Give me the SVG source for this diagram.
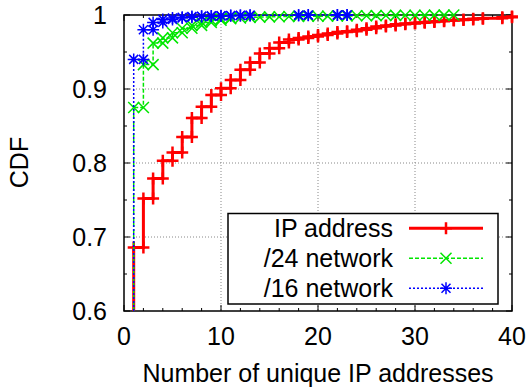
<svg xmlns="http://www.w3.org/2000/svg" xmlns:xlink="http://www.w3.org/1999/xlink" width="530" height="390" viewBox="0 0 530 390">
  <style>
    text { font-family: "Liberation Sans", Arial, sans-serif; font-size: 25px; fill: #000; }
    .yl { text-anchor: end; }
    .xl { text-anchor: middle; }
    .grid { stroke: #888; stroke-width: 1; stroke-dasharray: 1 2; fill: none; }
    .tick { stroke: #000; stroke-width: 1; fill: none; }
    .frame { stroke: #000; stroke-width: 1.5; fill: none; }
    .red { stroke: #ff0000; fill: none; }
    .green { stroke: #00e600; fill: none; }
    .blue { stroke: #0000ff; fill: none; }
  </style>
  <defs>
    <path id="mp" d="M-6,0H6M0,-6V6"/>
    <path id="mx" d="M-5.5,-5.5L5.5,5.5M-5.5,5.5L5.5,-5.5"/>
    <path id="ms" d="M-6,0H6M0,-6V6M-4.5,-4.5L4.5,4.5M-4.5,4.5L4.5,-4.5"/>
  </defs>

  <rect width="530" height="390" fill="#fff"/>

  <!-- grid -->
  <g id="grid" class="grid">
    <path d="M221,15V311M318,15V311M415,15V311"/>
    <path d="M124,89H512M124,163H512M124,237H512"/>
  </g>

  <!-- axes frame and ticks -->
  <g id="axes">
    <rect class="frame" x="124" y="15" width="388" height="296"/>
    <path class="tick" d="M124,15h6M124,89h6M124,163h6M124,237h6M124,311h6
      M124,52h3M124,126h3M124,200h3M124,274h3
      M512,15h-6M512,89h-6M512,163h-6M512,237h-6M512,311h-6
      M512,52h-3M512,126h-3M512,200h-3M512,274h-3
      M124,311v-6M221,311v-6M318,311v-6M415,311v-6M512,311v-6
      M124,15v6M221,15v6M318,15v6M415,15v6M512,15v6
      M143.4,311v-3M162.8,311v-3M182.2,311v-3M201.6,311v-3M240.4,311v-3M259.8,311v-3M279.2,311v-3M298.6,311v-3
      M337.4,311v-3M356.8,311v-3M376.2,311v-3M395.6,311v-3M434.4,311v-3M453.8,311v-3M473.2,311v-3M492.6,311v-3
      M143.4,15v3M162.8,15v3M182.2,15v3M201.6,15v3M240.4,15v3M259.8,15v3M279.2,15v3M298.6,15v3
      M337.4,15v3M356.8,15v3M376.2,15v3M395.6,15v3M434.4,15v3M453.8,15v3M473.2,15v3M492.6,15v3"/>
    <text class="yl" x="107" y="24">1</text>
    <text class="yl" x="107" y="98">0.9</text>
    <text class="yl" x="107" y="172">0.8</text>
    <text class="yl" x="107" y="246">0.7</text>
    <text class="yl" x="107" y="320">0.6</text>
    <text class="xl" x="124" y="345">0</text>
    <text class="xl" x="221" y="345">10</text>
    <text class="xl" x="318" y="345">20</text>
    <text class="xl" x="415" y="345">30</text>
    <text class="xl" x="512" y="345">40</text>
    <text class="xl" x="318" y="382">Number of unique IP addresses</text>
    <text class="xl" transform="translate(28,162.5) rotate(-90)">CDF</text>
  </g>

  <!-- IP address series -->
  <g id="series-ip" class="red">
    <path stroke-width="3" d="M133.7,311V247.4H143.4V198.5H153.1V178.5H162.8V160.8H172.5V152.6H182.2V137.1H191.9V117.9H201.6V106.8H211.3V94.9H221V88.3H230.7V80.1H240.4V69.8H250.1V62.4H259.8V53.5H269.5V48.3H279.2V42.4H288.9V39.4H298.6V37.9H308.3V36.5H318V35H327.7V33.5H337.4V32H347.1V31.3H356.8V29.8H366.5V28.3H376.2V26.5H385.9V25.5H395.6V24.3H405.3V23.5H415V22.8H424.7V22H434.4V21.3H444.1V20.6H453.8V20H463.5V19.4H473.2V18.8H482.9V18.2H502.3V17.3H512V16.5"/>
    <g stroke-width="2.5">
      <use xlink:href="#mp" x="133.7" y="247.4"/><use xlink:href="#mp" x="143.4" y="247.4"/>
      <use xlink:href="#mp" x="143.4" y="198.5"/><use xlink:href="#mp" x="153.1" y="198.5"/>
      <use xlink:href="#mp" x="153.1" y="178.5"/><use xlink:href="#mp" x="162.8" y="178.5"/>
      <use xlink:href="#mp" x="162.8" y="160.8"/><use xlink:href="#mp" x="172.5" y="160.8"/>
      <use xlink:href="#mp" x="172.5" y="152.6"/><use xlink:href="#mp" x="182.2" y="152.6"/>
      <use xlink:href="#mp" x="182.2" y="137.1"/><use xlink:href="#mp" x="191.9" y="137.1"/>
      <use xlink:href="#mp" x="191.9" y="117.9"/><use xlink:href="#mp" x="201.6" y="117.9"/>
      <use xlink:href="#mp" x="201.6" y="106.8"/><use xlink:href="#mp" x="211.3" y="106.8"/>
      <use xlink:href="#mp" x="211.3" y="94.9"/><use xlink:href="#mp" x="221" y="94.9"/>
      <use xlink:href="#mp" x="221" y="88.3"/><use xlink:href="#mp" x="230.7" y="88.3"/>
      <use xlink:href="#mp" x="230.7" y="80.1"/><use xlink:href="#mp" x="240.4" y="80.1"/>
      <use xlink:href="#mp" x="240.4" y="69.8"/><use xlink:href="#mp" x="250.1" y="69.8"/>
      <use xlink:href="#mp" x="250.1" y="62.4"/><use xlink:href="#mp" x="259.8" y="62.4"/>
      <use xlink:href="#mp" x="259.8" y="53.5"/><use xlink:href="#mp" x="269.5" y="53.5"/>
      <use xlink:href="#mp" x="269.5" y="48.3"/><use xlink:href="#mp" x="279.2" y="48.3"/>
      <use xlink:href="#mp" x="279.2" y="42.4"/><use xlink:href="#mp" x="288.9" y="42.4"/>
      <use xlink:href="#mp" x="288.9" y="39.4"/><use xlink:href="#mp" x="298.6" y="39.4"/>
      <use xlink:href="#mp" x="298.6" y="37.9"/><use xlink:href="#mp" x="308.3" y="37.9"/>
      <use xlink:href="#mp" x="308.3" y="36.5"/><use xlink:href="#mp" x="318" y="36.5"/>
      <use xlink:href="#mp" x="318" y="35"/><use xlink:href="#mp" x="327.7" y="35"/>
      <use xlink:href="#mp" x="327.7" y="33.5"/><use xlink:href="#mp" x="337.4" y="33.5"/>
      <use xlink:href="#mp" x="337.4" y="32"/><use xlink:href="#mp" x="347.1" y="32"/>
      <use xlink:href="#mp" x="347.1" y="31.3"/><use xlink:href="#mp" x="356.8" y="31.3"/>
      <use xlink:href="#mp" x="356.8" y="29.8"/><use xlink:href="#mp" x="366.5" y="29.8"/>
      <use xlink:href="#mp" x="366.5" y="28.3"/><use xlink:href="#mp" x="376.2" y="28.3"/>
      <use xlink:href="#mp" x="376.2" y="26.5"/><use xlink:href="#mp" x="385.9" y="26.5"/>
      <use xlink:href="#mp" x="385.9" y="25.5"/><use xlink:href="#mp" x="395.6" y="25.5"/>
      <use xlink:href="#mp" x="395.6" y="24.3"/><use xlink:href="#mp" x="405.3" y="24.3"/>
      <use xlink:href="#mp" x="405.3" y="23.5"/><use xlink:href="#mp" x="415" y="23.5"/>
      <use xlink:href="#mp" x="415" y="22.8"/><use xlink:href="#mp" x="424.7" y="22.8"/>
      <use xlink:href="#mp" x="424.7" y="22"/><use xlink:href="#mp" x="434.4" y="22"/>
      <use xlink:href="#mp" x="434.4" y="21.3"/><use xlink:href="#mp" x="444.1" y="21.3"/>
      <use xlink:href="#mp" x="444.1" y="20.6"/><use xlink:href="#mp" x="453.8" y="20.6"/>
      <use xlink:href="#mp" x="453.8" y="20"/><use xlink:href="#mp" x="463.5" y="20"/>
      <use xlink:href="#mp" x="463.5" y="19.4"/><use xlink:href="#mp" x="473.2" y="19.4"/>
      <use xlink:href="#mp" x="473.2" y="18.8"/><use xlink:href="#mp" x="482.9" y="18.8"/>
      <use xlink:href="#mp" x="482.9" y="18.2"/><use xlink:href="#mp" x="502.3" y="18.2"/>
      <use xlink:href="#mp" x="502.3" y="17.3"/><use xlink:href="#mp" x="512" y="17.3"/>
      <use xlink:href="#mp" x="512" y="16.5"/>
    </g>
  </g>

  <!-- /24 network series -->
  <g id="series-24" class="green" stroke-width="1.5">
    <path stroke-dasharray="4 2" d="M133.7,311V107.5H143.4V64.6H153.1V43.1H162.8V37.9H172.5V32.8H182.2V28.3H191.9V25.4H201.6V22.4H211.3V20.2H221V18.7H230.7V18H240.4V17.6H250.1V17.2H259.8V17H269.5V16.8H279.2V16.6H288.9V16.5H298.6V16.4H308.3V16.3H318V16.2H327.7V16.1H337.4V16H347.1V15.9H356.8V15.8H366.5V15.7H376.2V15.6H385.9V15.5H395.6V15.4H405.3V15.3H415V15.3H424.7V15.2H434.4V15.1H444.1V15.1H453.8V15"/>
    <use xlink:href="#mx" x="133.7" y="107.5"/><use xlink:href="#mx" x="143.4" y="107.5"/>
    <use xlink:href="#mx" x="143.4" y="64.6"/><use xlink:href="#mx" x="153.1" y="64.6"/>
    <use xlink:href="#mx" x="153.1" y="43.1"/><use xlink:href="#mx" x="162.8" y="43.1"/>
    <use xlink:href="#mx" x="162.8" y="37.9"/><use xlink:href="#mx" x="172.5" y="37.9"/>
    <use xlink:href="#mx" x="172.5" y="32.8"/><use xlink:href="#mx" x="182.2" y="32.8"/>
    <use xlink:href="#mx" x="182.2" y="28.3"/><use xlink:href="#mx" x="191.9" y="28.3"/>
    <use xlink:href="#mx" x="191.9" y="25.4"/><use xlink:href="#mx" x="201.6" y="25.4"/>
    <use xlink:href="#mx" x="201.6" y="22.4"/><use xlink:href="#mx" x="211.3" y="22.4"/>
    <use xlink:href="#mx" x="211.3" y="20.2"/><use xlink:href="#mx" x="221" y="20.2"/>
    <use xlink:href="#mx" x="221" y="18.7"/><use xlink:href="#mx" x="230.7" y="18.7"/>
    <use xlink:href="#mx" x="230.7" y="18"/><use xlink:href="#mx" x="240.4" y="18"/>
    <use xlink:href="#mx" x="250.1" y="17.4"/><use xlink:href="#mx" x="259.8" y="17.1"/>
    <use xlink:href="#mx" x="269.5" y="16.9"/><use xlink:href="#mx" x="279.2" y="16.7"/>
    <use xlink:href="#mx" x="288.9" y="16.5"/><use xlink:href="#mx" x="298.6" y="16.4"/>
    <use xlink:href="#mx" x="308.3" y="16.3"/><use xlink:href="#mx" x="318" y="16.2"/>
    <use xlink:href="#mx" x="327.7" y="16.1"/><use xlink:href="#mx" x="337.4" y="16"/>
    <use xlink:href="#mx" x="347.1" y="15.9"/><use xlink:href="#mx" x="356.8" y="15.8"/>
    <use xlink:href="#mx" x="366.5" y="15.7"/><use xlink:href="#mx" x="376.2" y="15.6"/>
    <use xlink:href="#mx" x="385.9" y="15.5"/><use xlink:href="#mx" x="395.6" y="15.4"/>
    <use xlink:href="#mx" x="405.3" y="15.3"/><use xlink:href="#mx" x="415" y="15.3"/>
    <use xlink:href="#mx" x="424.7" y="15.2"/><use xlink:href="#mx" x="434.4" y="15.1"/>
    <use xlink:href="#mx" x="444.1" y="15.1"/><use xlink:href="#mx" x="453.8" y="15"/>
  </g>

  <!-- /16 network series -->
  <g id="series-16" class="blue" stroke-width="1.5">
    <path stroke-dasharray="2 2" d="M133.7,311V59.4H143.4V29.8H153.1V22.4H162.8V19.4H172.5V18H182.2V17.2H191.9V16.5H201.6V16.2H211.3V15.9H221V15.7H230.7V15.5H240.4V15.4H250.1V15.3H298.6V15.2H308.3V15.1H337.4V15.05H347.1V15"/>
    <use xlink:href="#ms" x="133.7" y="59.4"/><use xlink:href="#ms" x="143.4" y="59.4"/>
    <use xlink:href="#ms" x="143.4" y="29.8"/><use xlink:href="#ms" x="153.1" y="29.8"/>
    <use xlink:href="#ms" x="153.1" y="22.4"/><use xlink:href="#ms" x="162.8" y="22.4"/>
    <use xlink:href="#ms" x="162.8" y="19.4"/><use xlink:href="#ms" x="172.5" y="19.4"/>
    <use xlink:href="#ms" x="172.5" y="18"/><use xlink:href="#ms" x="182.2" y="18"/>
    <use xlink:href="#ms" x="182.2" y="17.2"/><use xlink:href="#ms" x="191.9" y="17.2"/>
    <use xlink:href="#ms" x="191.9" y="16.5"/><use xlink:href="#ms" x="201.6" y="16.5"/>
    <use xlink:href="#ms" x="201.6" y="16.2"/><use xlink:href="#ms" x="211.3" y="16.2"/>
    <use xlink:href="#ms" x="211.3" y="15.9"/><use xlink:href="#ms" x="221" y="15.9"/>
    <use xlink:href="#ms" x="221" y="15.7"/><use xlink:href="#ms" x="230.7" y="15.7"/>
    <use xlink:href="#ms" x="230.7" y="15.5"/><use xlink:href="#ms" x="240.4" y="15.5"/>
    <use xlink:href="#ms" x="240.4" y="15.4"/><use xlink:href="#ms" x="250.1" y="15.4"/>
    <use xlink:href="#ms" x="250.1" y="15.3"/><use xlink:href="#ms" x="298.6" y="15.3"/>
    <use xlink:href="#ms" x="298.6" y="15.2"/><use xlink:href="#ms" x="308.3" y="15.2"/>
    <use xlink:href="#ms" x="308.3" y="15.1"/><use xlink:href="#ms" x="337.4" y="15.1"/>
    <use xlink:href="#ms" x="337.4" y="15.05"/><use xlink:href="#ms" x="347.1" y="15.05"/>
    <use xlink:href="#ms" x="347.1" y="15"/>
  </g>

  <!-- key -->
  <g id="legend">
    <rect x="228" y="213.5" width="270" height="90.5" fill="#fff" stroke="#000" stroke-width="1.5"/>
    <text class="yl" x="393" y="237">IP address</text>
    <text class="yl" x="393" y="267">/24 network</text>
    <text class="yl" x="393" y="297">/16 network</text>
    <g class="red">
      <path stroke-width="3" d="M409,228.3H483"/>
      <use xlink:href="#mp" x="446" y="228.3" stroke-width="2.5"/>
    </g>
    <g class="green" stroke-width="1.5">
      <path stroke-dasharray="4 2" d="M409,258.3H483"/>
      <use xlink:href="#mx" x="446" y="258.3"/>
    </g>
    <g class="blue" stroke-width="1.5">
      <path stroke-dasharray="2 2" d="M409,288.3H483"/>
      <use xlink:href="#ms" x="446" y="288.3"/>
    </g>
  </g>
</svg>
